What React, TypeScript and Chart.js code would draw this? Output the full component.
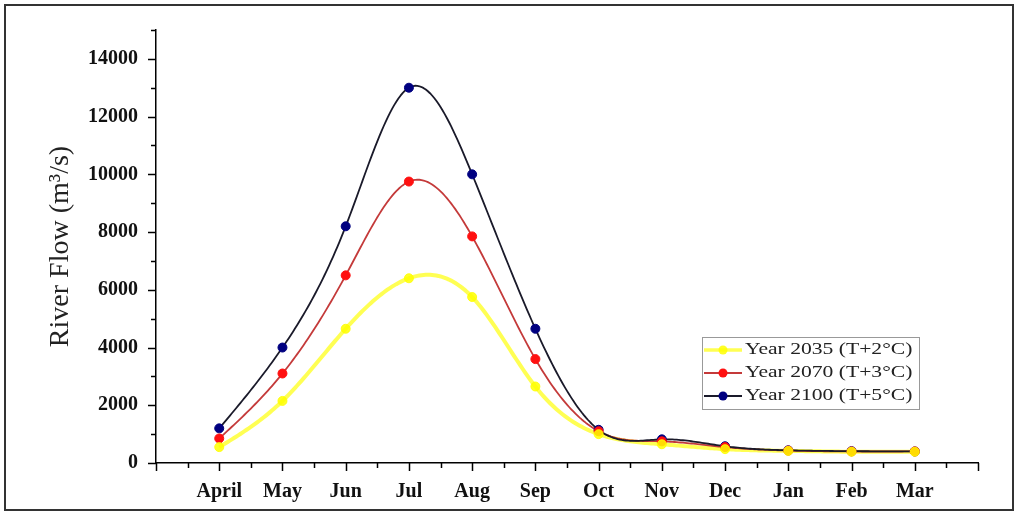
import React, { useEffect, useRef } from "react";
import { Chart, registerables } from "chart.js";
Chart.register(...registerables);

const months = ["April", "May", "Jun", "Jul", "Aug", "Sep", "Oct", "Nov", "Dec", "Jan", "Feb", "Mar"];
const flow2035 = [550, 2150, 4650, 6400, 5750, 2650, 1000, 650, 480, 420, 390, 390];
const flow2070 = [850, 3100, 6500, 9750, 7850, 3600, 1100, 750, 550, 430, 400, 400];
const flow2100 = [1200, 4000, 8200, 13000, 10000, 4650, 1150, 820, 580, 440, 410, 400];
const seriesNames = ["Year 2035 (T+2°C)", "Year 2070 (T+3°C)", "Year 2100 (T+5°C)"];
const yTicks = [0, 2000, 4000, 6000, 8000, 10000, 12000, 14000];

const SERIF = "'Liberation Serif', 'DejaVu Serif', serif";

const toXY = (arr: number[]) => arr.map((v, i) => ({ x: i, y: v }));

// natural cubic spline second derivatives (unit x spacing)
function splineM(y: number[]): number[] {
  const n = y.length;
  const M = new Array(n).fill(0);
  const a: number[] = [], b: number[] = [], c: number[] = [], d: number[] = [];
  for (let i = 1; i < n - 1; i++) {
    a.push(1); b.push(4); c.push(1);
    d.push(6 * (y[i + 1] - 2 * y[i] + y[i - 1]));
  }
  const m = b.length;
  for (let i = 1; i < m; i++) {
    const w = a[i] / b[i - 1];
    b[i] -= w * c[i - 1];
    d[i] -= w * d[i - 1];
  }
  const sol = new Array(m).fill(0);
  for (let i = m - 1; i >= 0; i--) {
    sol[i] = (d[i] - (i < m - 1 ? c[i] * sol[i + 1] : 0)) / b[i];
  }
  for (let i = 0; i < m; i++) M[i + 1] = sol[i];
  return M;
}

export default function App() {
  const ref = useRef<HTMLCanvasElement>(null);
  useEffect(() => {
    document.body.style.margin = "0";
    const ctx = ref.current!.getContext("2d")!;
    const series = [flow2035, flow2070, flow2100];
    const lineColors = ["rgba(255,255,40,0.8)", "#c43a3a", "#1a1a2a"];
    const pointColors = ["rgba(255,255,0,0.85)", "#ff1010", "#000080"];
    const lineWidths = [4, 1.8, 1.8];

    const curves = {
      id: "curves",
      beforeDatasetsDraw(chart: any) {
        const c = chart.ctx;
        const xs = chart.scales.x;
        const ys = chart.scales.y;
        const area = chart.chartArea;
        c.save();
        c.beginPath();
        c.rect(area.left, area.top, area.right - area.left, area.bottom - area.top);
        c.clip();
        series.forEach((y, k) => {
          const M = splineM(y);
          c.strokeStyle = lineColors[k];
          c.lineWidth = lineWidths[k];
          c.lineJoin = "round";
          c.beginPath();
          const steps = 30;
          for (let i = 0; i < y.length - 1; i++) {
            for (let s = 0; s <= steps; s++) {
              const t = s / steps;
              const v =
                (1 - t) * y[i] + t * y[i + 1] +
                (((1 - t) ** 3 - (1 - t)) * M[i] + (t ** 3 - t) * M[i + 1]) / 6;
              const px = xs.getPixelForValue(i + t);
              const py = ys.getPixelForValue(v);
              if (i === 0 && s === 0) c.moveTo(px, py);
              else c.lineTo(px, py);
            }
          }
          c.stroke();
        });
        c.restore();
      },
    };

    const decor = {
      id: "decor",
      afterDraw(chart: any) {
        const c = chart.ctx;
        const xs = chart.scales.x;
        const ys = chart.scales.y;
        const area = chart.chartArea;
        c.save();
        c.strokeStyle = "#333";
        c.lineWidth = 2;
        c.strokeRect(5, 5, 1008, 505);
        c.strokeStyle = "#000";
        c.lineWidth = 1.5;
        c.beginPath();
        for (let v = 0; v <= 15000; v += 1000) {
          const y = Math.round(ys.getPixelForValue(v)) + 0.5;
          const len = v % 2000 === 0 ? 8 : 5;
          c.moveTo(area.left, y);
          c.lineTo(area.left - len, y);
        }
        for (let i = -1; i <= 12; i += 0.5) {
          const x = Math.round(xs.getPixelForValue(i)) + 0.5;
          const len = Number.isInteger(i) ? 8 : 5;
          c.moveTo(x, area.bottom);
          c.lineTo(x, area.bottom + len);
        }
        c.stroke();
        // legend
        const lx = 702, ly = 337, lw = 217, lh = 72;
        c.fillStyle = "#ffffff";
        c.fillRect(lx, ly, lw, lh);
        c.strokeStyle = "#999";
        c.lineWidth = 1;
        c.strokeRect(lx + 0.5, ly + 0.5, lw, lh);
        c.font = `16px ${SERIF}`;
        c.textBaseline = "middle";
        seriesNames.forEach((name, k) => {
          const yy = ly + 13 + k * 23;
          c.strokeStyle = lineColors[k];
          c.lineWidth = k === 0 ? 3.5 : 1.8;
          c.beginPath();
          c.moveTo(lx + 2, yy);
          c.lineTo(lx + 40, yy);
          c.stroke();
          c.fillStyle = pointColors[k];
          c.beginPath();
          c.arc(lx + 21, yy, 4.5, 0, Math.PI * 2);
          c.fill();
          c.fillStyle = "#222";
          c.save();
          c.translate(lx + 43, yy);
          c.scale(1.35, 1);
          c.fillText(name, 0, 0);
          c.restore();
        });
        c.restore();
      },
    };

    const chart = new Chart(ctx, {
      type: "line",
      data: {
        datasets: series.map((d, k) => ({
          label: seriesNames[k],
          data: toXY(d),
          showLine: false,
          borderColor: lineColors[k],
          backgroundColor: pointColors[k],
          pointBackgroundColor: pointColors[k],
          pointBorderColor: pointColors[k],
          pointRadius: 4.5,
          fill: false,
        })),
      },
      options: {
        animation: false,
        responsive: false,
        layout: { padding: { left: 0, top: 30, right: 40, bottom: 0 } },
        plugins: { legend: { display: false }, tooltip: { enabled: false } },
        scales: {
          x: {
            type: "linear",
            min: -1,
            max: 12,
            afterFit: (s: any) => { s.height = 53; },
            grid: { display: true, drawOnChartArea: false, drawTicks: false },
            border: { display: true, color: "#000", width: 1.5 },
            afterBuildTicks: (s: any) => {
              s.ticks = months.map((_, i) => ({ value: i }));
            },
            ticks: {
              padding: 17,
              color: "#111",
              font: { family: SERIF, size: 20, weight: "bold" },
              callback: (v: any) => months[v] ?? "",
              maxRotation: 0,
              autoSkip: false,
            },
          },
          y: {
            min: 0,
            max: 15000,
            afterFit: (s: any) => { s.width = 156; },
            grid: { display: true, drawOnChartArea: false, drawTicks: false },
            border: { display: true, color: "#000", width: 1.5 },
            afterBuildTicks: (s: any) => {
              s.ticks = yTicks.map((v) => ({ value: v }));
            },
            ticks: {
              padding: 18,
              color: "#111",
              font: { family: SERIF, size: 20, weight: "bold" },
              callback: (v: any) => String(v),
            },
            title: {
              display: true,
              text: "River Flow (m³/s)",
              color: "#222",
              font: { family: SERIF, size: 28 },
              padding: { top: 44, bottom: 0 },
            },
          },
        },
      },
      plugins: [curves, decor],
    } as any);
    return () => chart.destroy();
  }, []);
  return <canvas ref={ref} width={1018} height={516} style={{ display: "block" }} />;
}
